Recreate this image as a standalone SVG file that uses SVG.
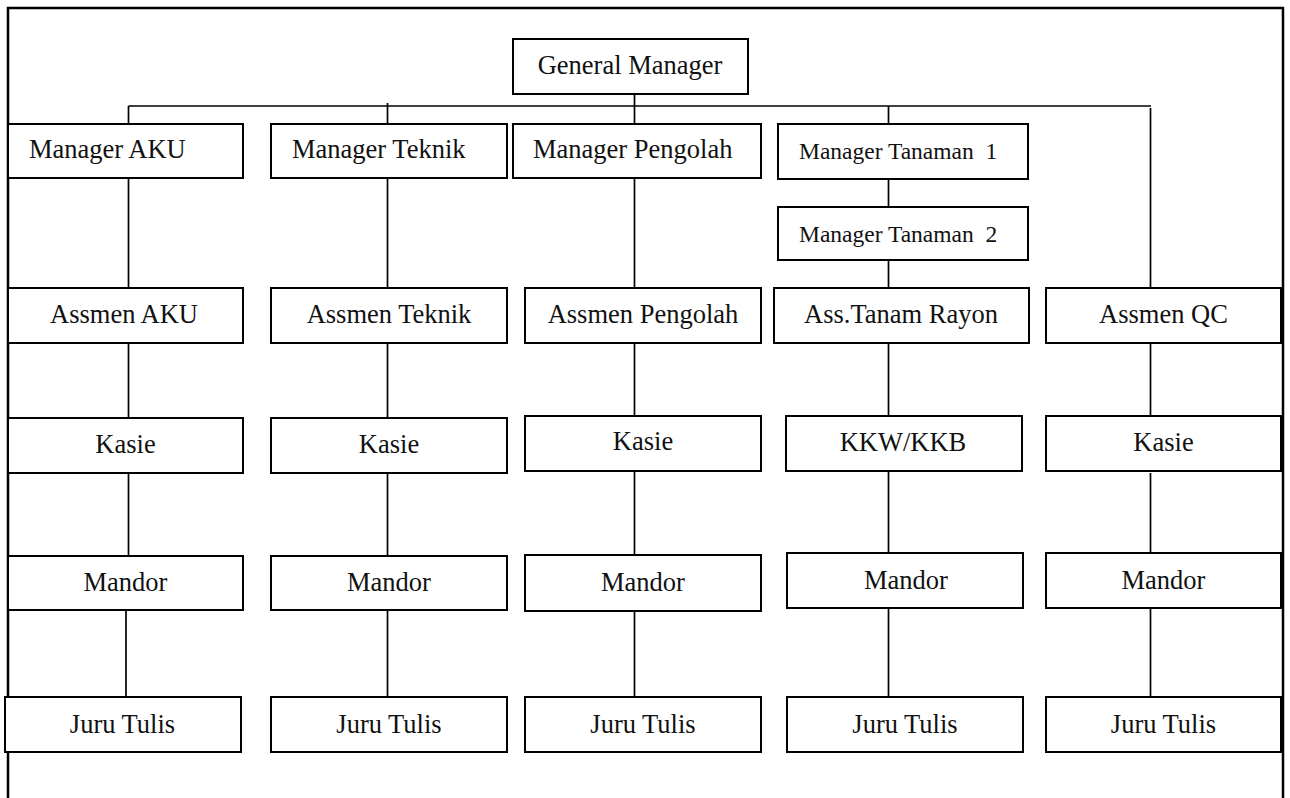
<svg xmlns="http://www.w3.org/2000/svg" width="1290" height="798" viewBox="0 0 1290 798">
<style>
.b{fill:#fff;stroke:#000;stroke-width:2}
.t{font-family:"Liberation Serif","Times New Roman",serif;font-size:26.5px;fill:#111}
.c{text-anchor:middle}
.s{font-size:23.5px;white-space:pre}
.ln{stroke:#000;stroke-width:1.7;fill:none}
</style>
<rect width="1290" height="798" fill="#fff"/>
<path d="M8,800 V8 H1283 V800" fill="none" stroke="#000" stroke-width="2.5"/>
<g id="connectors" class="ln">
<path d="M634.5,94 V124"/>
<path d="M128.5,106 H1151"/>
<path d="M128.5,106 V124"/>
<path d="M387.5,103 V124"/>
<path d="M888.5,106 V124"/>
<path d="M1150.5,108 V288"/>
<path d="M128.5,178 V288 M128.5,343 V418 M128.5,473 V556 M126,610 V697"/>
<path d="M387.5,178 V288 M387.5,343 V418 M387.5,473 V556 M387.5,610 V697"/>
<path d="M634.5,178 V288 M634.5,343 V416 M634.5,471 V555 M634.5,611 V697"/>
<path d="M888.5,179 V207 M888.5,260 V288 M888.5,343 V416 M888.5,471 V553 M888.5,608 V697"/>
<path d="M1150.5,343 V416 M1150.5,473 V553 M1150.5,608 V697"/>
</g>
<g id="gm"><rect class="b" x="513" y="39" width="235" height="55"/><text class="t c" x="630" y="74">General Manager</text></g>
<g id="m-aku"><rect class="b" x="8" y="124" width="235" height="54"/><text class="t" x="29" y="158">Manager AKU</text></g>
<g id="m-teknik"><rect class="b" x="271" y="124" width="236" height="54"/><text class="t" x="292" y="158">Manager Teknik</text></g>
<g id="m-pengolah"><rect class="b" x="513" y="124" width="248" height="54"/><text class="t" x="533" y="158">Manager Pengolah</text></g>
<g id="m-tanaman1"><rect class="b" x="778" y="124" width="250" height="55"/><text class="t s" x="799" y="159">Manager Tanaman  1</text></g>
<g id="m-tanaman2"><rect class="b" x="778" y="207" width="250" height="53"/><text class="t s" x="799" y="241.5">Manager Tanaman  2</text></g>
<g id="a-aku"><rect class="b" x="8" y="288" width="235" height="55"/><text class="t c" x="124" y="323">Assmen AKU</text></g>
<g id="a-teknik"><rect class="b" x="271" y="288" width="236" height="55"/><text class="t c" x="389" y="323">Assmen Teknik</text></g>
<g id="a-pengolah"><rect class="b" x="525" y="288" width="236" height="55"/><text class="t c" x="643" y="323">Assmen Pengolah</text></g>
<g id="a-tanam"><rect class="b" x="774" y="288" width="255" height="55"/><text class="t c" x="901" y="323">Ass.Tanam Rayon</text></g>
<g id="a-qc"><rect class="b" x="1046" y="288" width="235" height="55"/><text class="t c" x="1163.5" y="323">Assmen QC</text></g>
<g id="k-aku"><rect class="b" x="8" y="418" width="235" height="55"/><text class="t c" x="125.5" y="452.5">Kasie</text></g>
<g id="k-teknik"><rect class="b" x="271" y="418" width="236" height="55"/><text class="t c" x="389" y="452.5">Kasie</text></g>
<g id="k-pengolah"><rect class="b" x="525" y="416" width="236" height="55"/><text class="t c" x="643" y="450">Kasie</text></g>
<g id="k-tanam"><rect class="b" x="786" y="416" width="236" height="55"/><text class="t c" x="903" y="450.5">KKW/KKB</text></g>
<g id="k-qc"><rect class="b" x="1046" y="416" width="235" height="55"/><text class="t c" x="1163.5" y="451">Kasie</text></g>
<g id="md-aku"><rect class="b" x="8" y="556" width="235" height="54"/><text class="t c" x="125.5" y="591">Mandor</text></g>
<g id="md-teknik"><rect class="b" x="271" y="556" width="236" height="54"/><text class="t c" x="389" y="591">Mandor</text></g>
<g id="md-pengolah"><rect class="b" x="525" y="555" width="236" height="56"/><text class="t c" x="643" y="591">Mandor</text></g>
<g id="md-tanam"><rect class="b" x="787" y="553" width="236" height="55"/><text class="t c" x="906" y="588.5">Mandor</text></g>
<g id="md-qc"><rect class="b" x="1046" y="553" width="235" height="55"/><text class="t c" x="1163.5" y="588.5">Mandor</text></g>
<g id="j-aku"><rect class="b" x="5" y="697" width="236" height="55"/><text class="t c" x="122.5" y="732.5">Juru Tulis</text></g>
<g id="j-teknik"><rect class="b" x="271" y="697" width="236" height="55"/><text class="t c" x="389" y="732.5">Juru Tulis</text></g>
<g id="j-pengolah"><rect class="b" x="525" y="697" width="236" height="55"/><text class="t c" x="643" y="732.5">Juru Tulis</text></g>
<g id="j-tanam"><rect class="b" x="787" y="697" width="236" height="55"/><text class="t c" x="905" y="732.5">Juru Tulis</text></g>
<g id="j-qc"><rect class="b" x="1046" y="697" width="235" height="55"/><text class="t c" x="1163.5" y="732.5">Juru Tulis</text></g>
</svg>
